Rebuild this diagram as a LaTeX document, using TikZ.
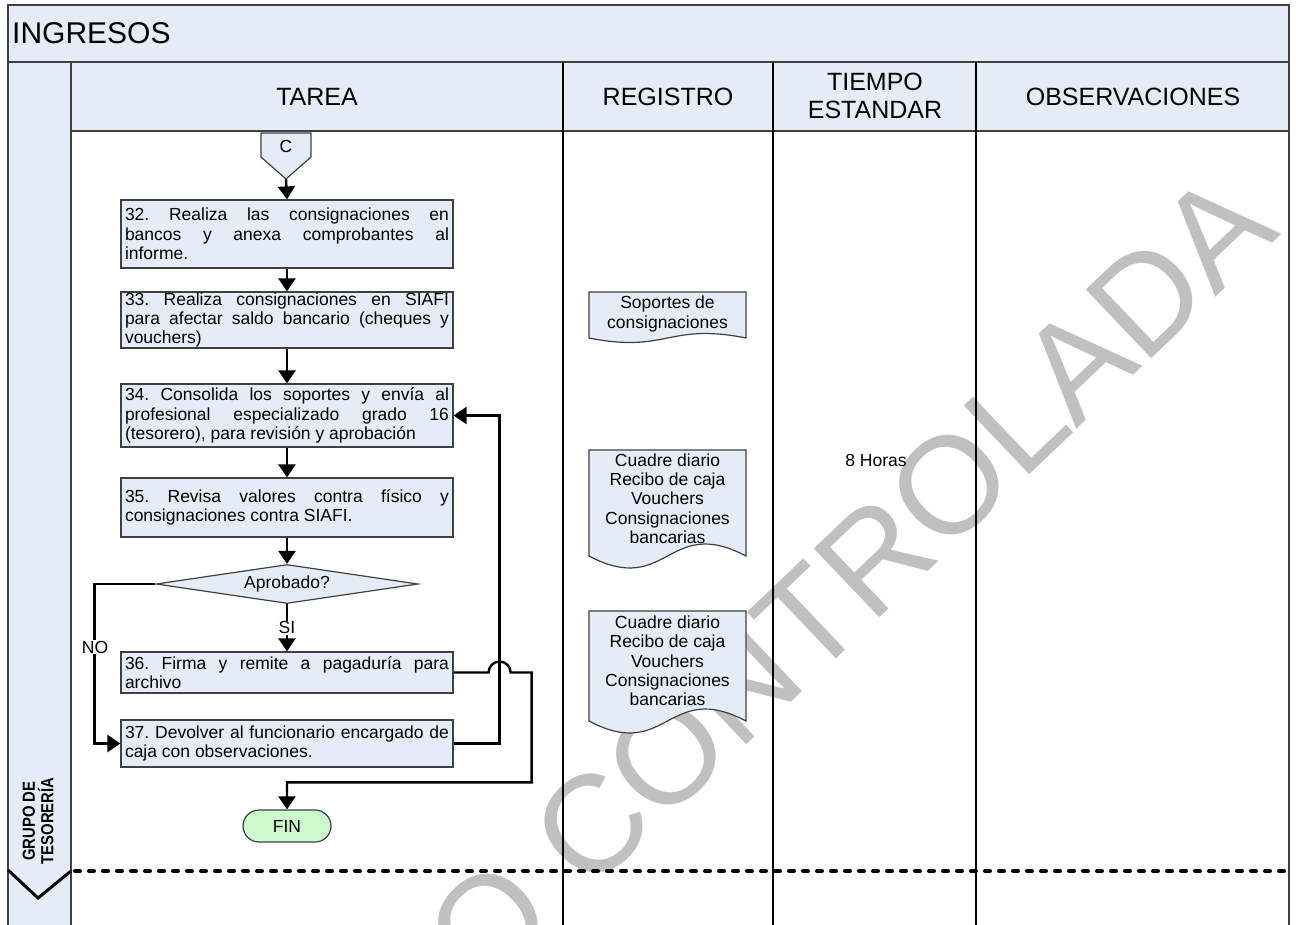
\documentclass[tikz,border=0pt]{standalone}
\usepackage{fontspec}
\setmainfont{Liberation Sans}
\newfontfamily\lanefont{Liberation Sans}[FakeStretch=0.85]
\usetikzlibrary{arrows.meta,shapes.geometric}
\definecolor{lblue}{RGB}{229,236,247}
\definecolor{lgreen}{RGB}{204,250,204}
\definecolor{frameg}{RGB}{64,64,64}
\definecolor{wmgray}{RGB}{192,192,192}
\tikzset{
 txt/.style={font=\fontsize{17.5}{19.3}\selectfont\frenchspacing},
 taskbox/.style={draw=frameg, line width=1.2pt, fill=lblue, text width=324pt, inner xsep=4pt, inner ysep=0pt, align=justify, txt, minimum width=332pt},
 conn/.style={line width=2.4pt, -{Triangle[width=17pt,length=13pt]}},
 lbl/.style={fill=white, inner sep=1pt, txt},
 docshape/.style={draw=frameg, line width=1.2pt, fill=lblue},
 head/.style={font=\fontsize{25}{27.5}\selectfont, align=center},
 colline/.style={line width=1.3pt, black},
 frameline/.style={line width=1.3pt, frameg},
 wm/.style={text=wmgray, font=\fontsize{138}{138}\selectfont, inner sep=0pt, rotate=43.6},
}
\newcommand\docpath[5]{%
 \draw[docshape] (#1,#2) -- (#3,#2) -- (#3,#4) .. controls ({(#1+#3)/2},{#4-3.46*#5}) and ({(#1+#3)/2},{#4+3.46*#5}) .. (#1,#4) -- cycle;}
\begin{document}
\begin{tikzpicture}[x=1pt,y=-1pt]
\useasboundingbox (0,0) rectangle (1296,924);
\clip (0,0) rectangle (1296,924);
\fill[white] (0,0) rectangle (1296,924);
% watermark
\coordinate (wmc) at (588,895);
\node[wm, anchor=base west] (wm1) at (wmc) {CONTROLADA};
\node[wm, anchor=base east] (wm0) at (wmc) {NO\kern0.278em};
% frame
\fill[lblue] (8,5) rectangle (1289,62);
\fill[lblue] (8,62) rectangle (71,940);
\fill[lblue] (71,62) rectangle (1289,131);
\draw[frameline] (8,5) rectangle (1289,940);
\draw[frameline] (8,62) -- (1289,62);
\draw[frameline] (71,62) -- (71,940);
\draw[frameline] (71,131) -- (1289,131);
\foreach \cx in {563,773,976} \draw[colline] (\cx,62) -- (\cx,940);
% headers
\node[anchor=west, inner sep=0pt, font=\fontsize{30}{32}\selectfont] (title) at (12,33) {INGRESOS};
\node[head] (hT) at (317,97) {TAREA};
\node[head] (hR) at (668,97) {REGISTRO};
\node[head] (hTi) at (875,96) {TIEMPO\\ESTANDAR};
\node[head] (hO) at (1133,97) {OBSERVACIONES};
% lane
\node[rotate=90, font=\lanefont\bfseries\fontsize{17.5}{18.5}\selectfont, align=center] (lane) at (38,821) {GRUPO DE\\TESORERÍA};
\draw[line width=3pt] (8,870) -- (38,898) -- (71,871);
\draw[line width=4pt, line cap=round, dash pattern=on 5pt off 9pt] (75,871) -- (1289,871);
% off-page connector
\draw[docshape] (261,133) -- (311,133) -- (311,157) -- (286,179) -- (261,157) -- cycle;
\node[txt] (cC) at (286,146) {C};
\coordinate (cbot) at (286,179);
% tasks
\node[taskbox, minimum height=68pt] (b32) at (287,234) {32. Realiza las consignaciones en\linebreak bancos y anexa comprobantes al\linebreak informe.};
\node[taskbox, minimum height=56pt] (b33) at (287,320) {33. Realiza consignaciones en SIAFI\linebreak para afectar saldo bancario (cheques y\linebreak vouchers)};
\node[taskbox, minimum height=63pt] (b34) at (287,415.5) {34. Consolida los soportes y envía al\linebreak profesional especializado grado 16\linebreak (tesorero), para revisión y aprobación};
\node[taskbox, minimum height=59pt] (b35) at (287,507.5) {35. Revisa valores contra físico y\linebreak consignaciones contra SIAFI.};
\node[diamond, draw=frameg, line width=1.2pt, fill=lblue, minimum width=262pt, minimum height=39pt, inner sep=0pt, aspect=6.7, txt] (dec) at (287,584) {Aprobado?};
\node[taskbox, minimum height=41pt] (b36) at (287,672.5) {36. Firma y remite a pagaduría para\linebreak archivo};
\node[taskbox, minimum height=47pt] (b37) at (287,743.5) {37. Devolver al funcionario encargado de\linebreak caja con observaciones.};
\node[draw=frameg, line width=1.2pt, fill=lgreen, rounded corners=16pt, minimum width=88pt, minimum height=32pt, txt] (fin) at (287,826) {FIN};
% documents
\docpath{589}{292}{746}{338}{4.5}
\node[txt, align=center] (d1) at (667.5,314) {Soportes de\\consignaciones};
\docpath{589}{450}{746}{556}{12}
\node[txt, align=center] (d2) at (667.5,498.5) {Cuadre diario\\Recibo de caja\\Vouchers\\Consignaciones\\bancarias};
\docpath{589}{611}{746}{721}{12}
\node[txt, align=center] (d3) at (667.5,661) {Cuadre diario\\Recibo de caja\\Vouchers\\Consignaciones\\bancarias};
\node[txt] (t8) at (876,460) {8 Horas};
% connectors
\draw[conn] (cbot) -- (b32.north);
\draw[conn] (b32.south) -- (b33.north);
\draw[conn] (b33.south) -- (b34.north);
\draw[conn] (b34.south) -- (b35.north);
\draw[conn] (b35.south) -- (dec.north);
\draw[conn] (dec.south) -- node[lbl] (si) {SI} (b36.north);
\draw[conn] (dec.west) -| ([xshift=-26pt]b37.west) -- (b37.west);
\node[lbl] (no) at (95,647) {NO};
\draw[conn] (b37.east) -| ([xshift=46pt]b34.east) -- (b34.east);
\draw[conn] (b36.east) -- ++(35,0) arc[start angle=180,end angle=360,radius=11] -- ++(21,0) |- ([yshift=27pt]fin.north) -- (fin.north);
\end{tikzpicture}
\end{document}
